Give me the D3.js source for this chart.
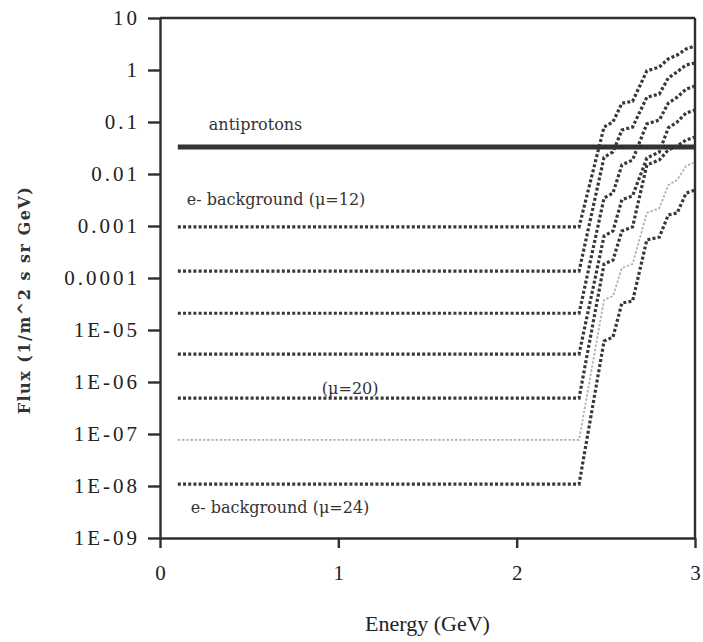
<!DOCTYPE html>
<html>
<head>
<meta charset="utf-8">
<script src="https://cdn.jsdelivr.net/npm/d3@7/dist/d3.min.js"></script>
<style>
  html, body { margin: 0; padding: 0; background: #fff; }
  svg { display: block; }
</style>
</head>
<body>
<svg id="chart" width="703" height="642"></svg>
<script>
// ---- Data ----
const energies = [0.1, 2.35, 2.49, 2.54, 2.59, 2.65, 2.73, 2.80, 2.85, 2.90, 2.95, 3.0];
const fluxMu12 = [9.6e-4, 9.6e-4, 0.080, 0.10, 0.23, 0.25, 0.96, 1.14, 1.63, 1.94, 2.53, 2.9];
const fluxMu14 = [1.36e-4, 1.36e-4, 0.021, 0.0265, 0.070, 0.080, 0.30, 0.345, 0.70, 0.92, 1.25, 1.36];
const fluxMu16 = [2.1e-5, 2.1e-5, 3.45e-3, 4.3e-3, 0.0149, 0.0186, 0.092, 0.109, 0.23, 0.30, 0.43, 0.49];
const fluxMu18 = [3.45e-6, 3.45e-6, 6.4e-4, 8.0e-4, 3.2e-3, 3.8e-3, 0.0203, 0.0265, 0.077, 0.10, 0.149, 0.17];
const fluxMu20 = [4.9e-7, 4.9e-7, 1.86e-4, 2.2e-4, 8.0e-4, 9.6e-4, 0.0149, 0.0186, 0.029, 0.0345, 0.045, 0.0515];
const fluxMu22 = [7.7e-8, 7.7e-8, 3.8e-5, 4.5e-5, 1.56e-4, 1.86e-4, 1.78e-3, 2.2e-3, 6.1e-3, 7.7e-3, 0.0143, 0.017];
const fluxMu24 = [1.09e-8, 1.09e-8, 6.1e-6, 7.3e-6, 3.3e-5, 3.6e-5, 5.4e-4, 6.1e-4, 1.63e-3, 1.78e-3, 4.3e-3, 4.9e-3];

const antiprotonEnergies = [0.1, 3.0];
const antiprotonFlux = [0.033, 0.033];

const seriesNames = ["mu12", "mu14", "mu16", "mu18", "mu20", "mu22", "mu24"];
const seriesFlux = [fluxMu12, fluxMu14, fluxMu16, fluxMu18, fluxMu20, fluxMu22, fluxMu24];
const seriesGray = [false, false, false, false, false, true, false];

const yTickValues = [10, 1, 0.1, 0.01, 0.001, 0.0001, 1e-5, 1e-6, 1e-7, 1e-8, 1e-9];
const yTickLabels = ["10", "1", "0.1", "0.01", "0.001", "0.0001", "1E-05", "1E-06", "1E-07", "1E-08", "1E-09"];
const xTickValues = [0, 1, 2, 3];
const xTickLabels = ["0", "1", "2", "3"];

const annotations = [
  { text: "antiprotons", e: 0.1, f: 0.033 },
  { text: "e- background (\u03bc=12)", e: 0.1, f: 9.6e-4 },
  { text: "(\u03bc=20)", e: 0.1, f: 4.9e-7 },
  { text: "e- background (\u03bc=24)", e: 0.1, f: 1.09e-8 }
];

// ---- Layout ----
const svg = d3.select("#chart");
const plotL = 160, plotR = 695, plotT = 18, plotB = 538;
const x = d3.scaleLinear().domain([0, 3]).range([plotL, plotR]);
const y = d3.scaleLog().domain([1e-9, 10]).range([plotB, plotT]);
const ink = "#2e2e2e";

// frame (top and right)
svg.append("line").attr("x1", plotL).attr("x2", plotR).attr("y1", plotT).attr("y2", plotT)
  .attr("stroke", ink).attr("stroke-width", 2.4);
svg.append("line").attr("x1", plotR).attr("x2", plotR).attr("y1", plotT).attr("y2", plotB)
  .attr("stroke", ink).attr("stroke-width", 2.4);

// y axis
const yAxis = d3.axisLeft(y).tickValues(yTickValues)
  .tickFormat((d, i) => yTickLabels[i]).tickSize(12).tickSizeOuter(0).tickPadding(8);
const gy = svg.append("g").attr("transform", `translate(${plotL},0)`).call(yAxis);
gy.select(".domain").attr("stroke", ink).attr("stroke-width", 2.4);
gy.selectAll(".tick line").attr("stroke", ink).attr("stroke-width", 2.4);
gy.selectAll(".tick text").attr("font-family", "'Liberation Serif', serif")
  .attr("font-size", 21).attr("fill", "#222").attr("letter-spacing", 3);

// x axis
const xAxis = d3.axisBottom(x).tickValues(xTickValues)
  .tickFormat((d, i) => xTickLabels[i]).tickSize(10).tickSizeOuter(0).tickPadding(17);
const gx = svg.append("g").attr("transform", `translate(0,${plotB})`).call(xAxis);
gx.select(".domain").attr("stroke", ink).attr("stroke-width", 2.4);
gx.selectAll(".tick line").attr("stroke", ink).attr("stroke-width", 2.4);
gx.selectAll(".tick text").attr("font-family", "'Liberation Serif', serif")
  .attr("font-size", 21).attr("fill", "#222");

// lines
const line = d3.line().x(d => x(d.e)).y(d => y(d.f));

svg.append("path")
  .datum(antiprotonEnergies.map((e, i) => ({ e, f: antiprotonFlux[i] })))
  .attr("d", line).attr("fill", "none").attr("stroke", "#333").attr("stroke-width", 5);

seriesFlux.forEach((fl, k) => {
  const pts = energies.map((e, i) => ({ e, f: fl[i] }));
  const p = svg.append("path").datum(pts).attr("d", line).attr("fill", "none")
    .attr("class", seriesNames[k]);
  if (seriesGray[k]) {
    p.attr("stroke", "#b0b0b0").attr("stroke-width", 1.8).attr("stroke-dasharray", "2.4,1.8");
  } else {
    p.attr("stroke", "#383838").attr("stroke-width", 3.2).attr("stroke-dasharray", "3,2.2");
  }
});

// annotations
const annOffsets = [[31, -17], [9, -22], [144, -4], [13, 29]];
annotations.forEach((a, i) => {
  svg.append("text")
    .attr("x", x(a.e) + annOffsets[i][0])
    .attr("y", y(a.f) + annOffsets[i][1])
    .attr("font-family", "'DejaVu Serif', serif")
    .attr("font-size", 16)
    .attr("fill", "#333")
    .text(a.text);
});

// axis titles
svg.append("text")
  .attr("x", (plotL + plotR) / 2).attr("y", 631)
  .attr("text-anchor", "middle")
  .attr("font-family", "'Liberation Serif', serif")
  .attr("font-size", 22).attr("fill", "#222")
  .text("Energy (GeV)");

svg.append("text")
  .attr("transform", "translate(30,300) rotate(-90)")
  .attr("text-anchor", "middle")
  .attr("font-family", "'DejaVu Serif', serif")
  .attr("font-weight", "bold")
  .attr("font-size", 16)
  .attr("letter-spacing", 1.5)
  .attr("fill", "#333")
  .text("Flux (1/m^2 s sr GeV)");
</script>
</body>
</html>
